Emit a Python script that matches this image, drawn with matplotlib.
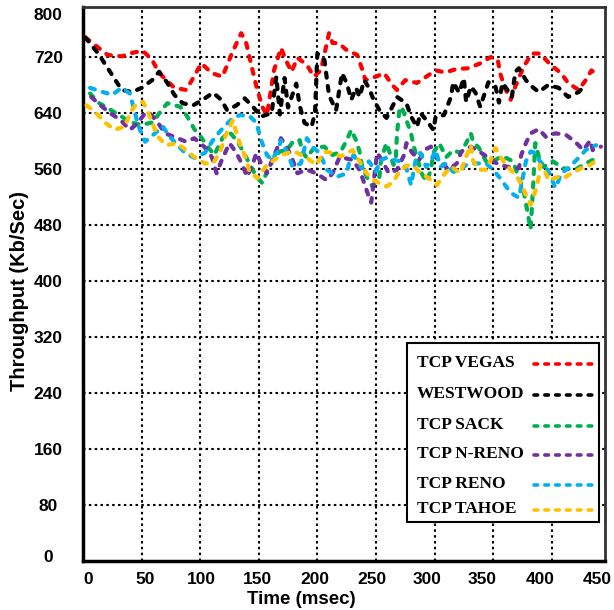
import matplotlib
matplotlib.use("Agg")
import matplotlib.pyplot as plt
from matplotlib.lines import Line2D
from matplotlib.patches import Rectangle

plt.rcParams['font.family'] = ['Liberation Sans', 'DejaVu Sans']
plt.rcParams['font.weight'] = 'bold'

# ---------------- data ----------------
vegas_t = [2, 21, 33, 42, 51, 59, 65, 78, 88, 93, 101, 110, 119, 127, 135, 139, 144, 148, 153, 157,
           163, 169, 173, 178, 183, 191, 197, 203, 210, 213, 218, 225, 234, 238, 241, 250, 257, 264,
           268, 275, 285, 293, 301, 309, 319, 329, 339, 348, 354, 356, 360, 365, 369, 376, 383, 390,
           399, 408, 414, 423, 429, 434, 440]
vegas_v = [748, 723, 721, 726, 729, 716, 697, 676, 673, 687, 711, 697, 692, 725, 754, 742, 706, 678, 649, 637,
           701, 733, 716, 699, 719, 709, 692, 701, 754, 740, 740, 730, 723, 704, 687, 692, 697, 680,
           673, 687, 683, 692, 701, 698, 703, 704, 711, 720, 716, 697, 676, 659, 678, 706, 725, 725,
           709, 697, 683, 673, 687, 701, 692]

westwood_t = [2, 13, 25, 33, 42, 50, 59, 65, 72, 78, 85, 94, 104, 111, 118, 123, 131, 138, 145, 152,
              161, 165, 168, 172, 175, 182, 185, 189, 195, 198, 200, 206, 210, 216, 221, 225, 229, 233,
              236, 240, 244, 248, 253, 259, 264, 268, 276, 280, 285, 288, 293, 299, 301, 308, 314, 316,
              321, 325, 327, 331, 335, 339, 346, 352, 355, 358, 361, 366, 369, 372, 378, 383, 389, 397,
              406, 414, 423, 429]
westwood_v = [748, 725, 694, 673, 670, 676, 687, 699, 683, 666, 654, 651, 661, 669, 659, 644, 651, 661, 649, 635,
              640, 692, 638, 690, 648, 682, 650, 626, 620, 640, 725, 716, 665, 644, 697, 683, 659, 676,
              663, 687, 676, 659, 644, 633, 649, 663, 654, 635, 620, 640, 630, 616, 635, 637, 663, 684,
              669, 690, 656, 678, 669, 649, 684, 678, 655, 683, 676, 663, 699, 704, 687, 678, 670, 680,
              676, 663, 670, 680]

sack_t = [6, 13, 23, 32, 40, 50, 60, 66, 72, 83, 89, 95, 101, 106, 112, 119, 125, 132, 136, 142,
          148, 153, 157, 163, 168, 174, 180, 185, 187, 191, 197, 206, 213, 220, 225, 229, 233, 236,
          238, 242, 247, 253, 254, 257, 259, 263, 265, 267, 268, 270, 272, 276, 280, 282, 285, 289,
          293, 297, 299, 304, 310, 316, 322, 327, 331, 333, 338, 344, 350, 357, 361, 367, 372, 376,
          378, 382, 384, 386, 389, 393, 401, 410, 420, 429, 435]
sack_v = [668, 655, 645, 636, 627, 623, 627, 642, 654, 649, 635, 617, 605, 593, 580, 604, 613, 599, 587, 568,
          549, 540, 556, 577, 585, 587, 601, 601, 585, 576, 590, 592, 580, 585, 601, 616, 601, 585,
          566, 549, 535, 549, 568, 587, 597, 577, 566, 577, 611, 644, 649, 630, 611, 594, 577, 554,
          542, 559, 583, 597, 577, 587, 583, 597, 611, 599, 590, 571, 571, 578, 576, 571, 547, 530,
          511, 474, 530, 597, 578, 563, 571, 561, 559, 568, 573]

nreno_t = [7, 15, 23, 32, 40, 47, 53, 57, 64, 70, 78, 88, 95, 104, 110, 114, 118, 125, 131, 136,
           140, 145, 148, 152, 157, 165, 169, 174, 178, 183, 191, 199, 208, 213, 219, 225, 230, 236,
           240, 244, 246, 249, 251, 255, 261, 268, 274, 276, 281, 287, 291, 297, 301, 308, 312, 319,
           323, 331, 340, 355, 363, 372, 374, 378, 382, 389, 395, 403, 412, 420, 427, 433, 435, 442]
nreno_v = [663, 651, 640, 630, 616, 626, 640, 640, 626, 611, 606, 599, 604, 591, 577, 554, 571, 597, 583, 566,
           549, 568, 583, 568, 554, 587, 604, 591, 577, 554, 559, 554, 544, 554, 577, 575, 573, 559,
           540, 520, 512, 555, 583, 573, 554, 559, 580, 597, 583, 573, 587, 592, 577, 566, 559, 568,
           585, 592, 583, 566, 563, 561, 580, 597, 611, 617, 606, 611, 609, 599, 587, 601, 587, 592]

reno_t = [6, 15, 25, 33, 40, 43, 47, 53, 60, 68, 74, 81, 87, 95, 104, 110, 117, 122, 128, 134,
          142, 148, 152, 157, 161, 166, 169, 174, 179, 186, 191, 196, 202, 208, 217, 225, 227, 231,
          238, 244, 250, 254, 259, 265, 271, 276, 280, 282, 284, 288, 293, 298, 301, 305, 310, 316,
          322, 327, 332, 344, 350, 355, 359, 365, 372, 374, 378, 382, 386, 390, 395, 399, 403, 406,
          408, 414, 423, 429, 434, 438]
reno_v = [676, 671, 666, 676, 668, 649, 623, 599, 609, 621, 606, 594, 583, 576, 583, 599, 614, 623, 633, 637,
          636, 626, 601, 580, 573, 585, 601, 585, 563, 568, 604, 591, 583, 559, 549, 554, 568, 580,
          561, 571, 556, 573, 576, 573, 571, 561, 537, 556, 573, 583, 563, 576, 587, 563, 568, 556,
          559, 566, 568, 568, 559, 549, 540, 526, 519, 535, 571, 585, 583, 571, 563, 551, 533, 544,
          554, 561, 576, 587, 592, 594]

tahoe_t = [3, 10, 19, 27, 36, 40, 46, 51, 55, 59, 64, 71, 80, 88, 95, 104, 111, 117, 122, 128,
           131, 135, 140, 142, 149, 157, 163, 170, 178, 183, 191, 199, 206, 213, 220, 230, 236, 242,
           248, 259, 265, 271, 278, 284, 288, 295, 302, 306, 310, 315, 322, 327, 331, 333, 338, 344,
           348, 352, 356, 361, 365, 372, 380, 382, 387, 389, 390, 395, 397, 406, 410, 414, 425, 433, 437]
tahoe_v = [651, 642, 626, 616, 621, 640, 654, 656, 644, 626, 606, 594, 597, 587, 577, 568, 568, 585, 609, 630,
           611, 591, 571, 556, 547, 566, 573, 580, 585, 583, 576, 566, 585, 583, 578, 587, 571, 554,
           544, 535, 542, 559, 566, 561, 554, 547, 537, 547, 556, 563, 554, 578, 594, 571, 559, 559,
           573, 590, 578, 566, 559, 545, 516, 509, 533, 549, 566, 554, 544, 549, 547, 551, 561, 566, 571]

series_names = ['TCP VEGAS', 'WESTWOOD', 'TCP SACK', 'TCP N-RENO', 'TCP RENO', 'TCP TAHOE']
series_t = [vegas_t, westwood_t, sack_t, nreno_t, reno_t, tahoe_t]
series_v = [vegas_v, westwood_v, sack_v, nreno_v, reno_v, tahoe_v]
colors = ['#FF0000', '#000000', '#00B050', '#7030A0', '#00B0F0', '#FFC000']

x_grid = [0, 50, 100, 150, 200, 250, 300, 350, 400]
x_labels = ['0', '50', '100', '150', '200', '250', '300', '350', '400', '450']
x_label_pos = [4.3, 52.8, 101.4, 149, 197.6, 246.2, 293.9, 340.7, 390.1, 438.7]
y_grid = [80, 160, 240, 320, 400, 480, 560, 640, 720]
y_labels = ['0', '80', '160', '240', '320', '400', '480', '560', '640', '720', '800']
y_label_pos = [7, 80, 160, 240, 320, 400, 480, 560, 640, 720, 781]

# ---------------- figure ----------------
fig = plt.figure(figsize=(6.14, 6.10), dpi=100)
ax = fig.add_axes([83/614, 1 - 561/610, 522/614, 554/610])

LW = 3.0
LINESTYLE = (0, (1.2, 2.0))
for name, t, v, c in zip(series_names, series_t, series_v, colors):
    ax.plot(t, v, color=c, lw=LW, linestyle=LINESTYLE, dash_capstyle='round',
            label=name, zorder=3)

ax.set_xlim(0, 445.5)
ax.set_ylim(0, 791.5)

ax.xaxis.remove_overlapping_locs = False
ax.yaxis.remove_overlapping_locs = False
ax.set_xticks(x_grid)
ax.set_xticklabels([])
ax.set_yticks(y_grid)
ax.set_yticklabels([])
ax.set_xticks(x_label_pos, minor=True)
ax.set_xticklabels(x_labels, minor=True)
ax.set_yticks(y_label_pos, minor=True)
ax.set_yticklabels(y_labels, minor=True)
ax.tick_params(which='both', length=0)
ax.tick_params(axis='x', which='minor', labelsize=12.5, pad=8)
ax.tick_params(axis='y', which='minor', labelsize=12.5, pad=25)
for lab in ax.get_yticklabels(minor=True):
    lab.set_horizontalalignment('center')

ax.grid(which='major', color='black', linestyle=(0, (1.2, 1.6)), linewidth=1.5, zorder=1)

for side in ['left', 'bottom']:
    ax.spines[side].set_linewidth(2.5)
    ax.spines[side].set_color('black')
for side in ['top', 'right']:
    ax.spines[side].set_linewidth(2.0)
    ax.spines[side].set_color('#333333')

ax.set_xlabel('Time (msec)', fontsize=13.5, fontweight='bold', va='center')
ax.xaxis.set_label_coords((301 - 83) / 522, (561 - 600) / 554)
ax.set_ylabel('Throughput (Kb/Sec)', fontsize=14.5, fontweight='bold', va='center')
ax.yaxis.set_label_coords(-(83 - 20) / 522, (561 - 291) / 554)

# ---------------- legend (text on the left, dashed sample on the right) ----------------
def fx(px):
    return (px - 83) / 522

def fy(py):
    return (561 - py) / 554

box = Rectangle((fx(407), fy(522)), fx(599) - fx(407), fy(343) - fy(522),
                transform=ax.transAxes, facecolor='white', edgecolor='black',
                linewidth=1.5, zorder=5, clip_on=False)
ax.add_patch(box)
legend_rows_py = [363, 394, 425, 454, 484, 509]
for name, c, py in zip(series_names, colors, legend_rows_py):
    ax.text(fx(417), fy(py), name, transform=ax.transAxes, ha='left', va='center',
            family=['Liberation Serif', 'DejaVu Serif'], fontweight='bold', fontsize=12.5,
            zorder=6)
    ax.add_line(Line2D([fx(534), fx(595)], [fy(py + 1), fy(py + 1)], transform=ax.transAxes,
                       color=c, lw=2.6, linestyle=(0, (1.0, 2.0)), dash_capstyle='round',
                       zorder=6, clip_on=False))

fig.savefig('out.png', dpi=100, facecolor='white')
